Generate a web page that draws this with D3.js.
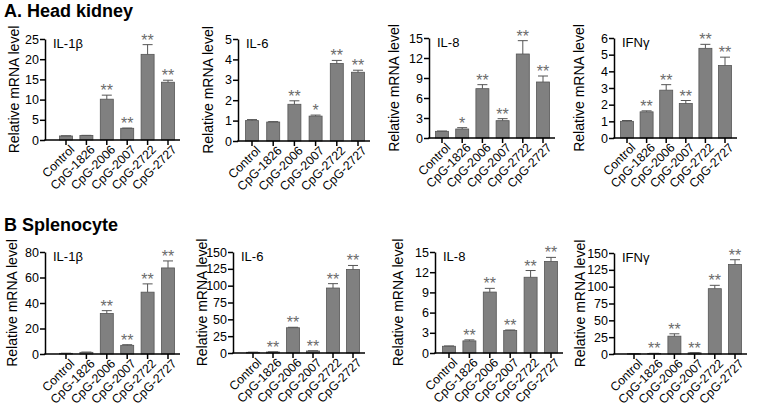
<!DOCTYPE html>
<html><head><meta charset="utf-8">
<script src="https://cdn.jsdelivr.net/npm/d3@7"></script>
<style>body{margin:0;background:#fff}svg{display:block}text{font-family:Arial,"Liberation Sans",sans-serif}</style>
</head><body><svg id="c" width="760" height="407"></svg>
<script>
const categories = ["Control","CpG-1826","CpG-2006","CpG-2007","CpG-2722","CpG-2727"];

// Head kidney
const hkIL1bValues = [1.0, 1.1, 10.1, 2.9, 21.2, 14.3];
const hkIL1bErr    = [1.05, 1.15, 11.1, 2.95, 23.6, 14.8];
const hkIL1bSig    = ["", "", "**", "**", "**", "**"];
const hkIL1bTicks  = [0, 5, 10, 15, 20, 25];

const hkIL6Values = [1.0, 0.93, 1.8, 1.22, 3.8, 3.37];
const hkIL6Err    = [1.05, 0.95, 1.97, 1.27, 3.95, 3.47];
const hkIL6Sig    = ["", "", "**", "*", "**", "**"];
const hkIL6Ticks  = [0, 1, 2, 3, 4, 5];

const hkIL8Values = [1.0, 1.35, 7.4, 2.6, 12.6, 8.4];
const hkIL8Err    = [1.05, 1.55, 8.0, 2.9, 14.6, 9.3];
const hkIL8Sig    = ["", "*", "**", "**", "**", "**"];
const hkIL8Ticks  = [0, 3, 6, 9, 12, 15];

const hkIFNgValues = [1.0, 1.57, 2.87, 2.07, 5.38, 4.35];
const hkIFNgErr    = [1.05, 1.63, 3.2, 2.25, 5.62, 4.85];
const hkIFNgSig    = ["", "**", "**", "**", "**", "**"];
const hkIFNgTicks  = [0, 1, 2, 3, 4, 5, 6];

// Splenocyte
const spIL1bValues = [0.5, 1.3, 31.8, 6.8, 48.5, 67.5];
const spIL1bErr    = [0.6, 1.5, 34.0, 7.3, 55.0, 73.0];
const spIL1bSig    = ["", "", "**", "**", "**", "**"];
const spIL1bTicks  = [0, 20, 40, 60, 80];

const spIL6Values = [1.0, 1.5, 37.5, 3.0, 96.5, 124];
const spIL6Err    = [1.2, 1.8, 38.2, 3.4, 103, 130];
const spIL6Sig    = ["", "**", "**", "**", "**", "**"];
const spIL6Ticks  = [0, 25, 50, 75, 100, 125, 150];

const spIL8Values = [1.0, 1.8, 9.05, 3.35, 11.25, 13.6];
const spIL8Err    = [1.05, 1.95, 9.6, 3.42, 12.25, 14.2];
const spIL8Sig    = ["", "**", "**", "**", "**", "**"];
const spIL8Ticks  = [0, 3, 6, 9, 12, 15];

const spIFNgValues = [0.5, 0.8, 26.5, 1.8, 97, 133];
const spIFNgErr    = [0.6, 1.0, 30, 2.1, 102, 140];
const spIFNgSig    = ["", "**", "**", "**", "**", "**"];
const spIFNgTicks  = [0, 25, 50, 75, 100, 125, 150];

const svg = d3.select("#c");
const BAR = "#808080", BARSTROKE = "#555555", STAR = "#6b6b6b";

svg.append("text").attr("x", 4).attr("y", 17).attr("font-size", 18).attr("font-weight", "bold").text("A. Head kidney");
svg.append("text").attr("x", 4).attr("y", 231).attr("font-size", 18).attr("font-weight", "bold").text("B Splenocyte");

const panels = [
  {name:"IL-1β", v:hkIL1bValues, e:hkIL1bErr, s:hkIL1bSig, t:hkIL1bTicks, x0:45, first:66, last:168, top:39, bot:140, lab:14},
  {name:"IL-6", v:hkIL6Values, e:hkIL6Err, s:hkIL6Sig, t:hkIL6Ticks, x0:238, first:252, last:358, top:39, bot:141, lab:208},
  {name:"IL-8", v:hkIL8Values, e:hkIL8Err, s:hkIL8Sig, t:hkIL8Ticks, x0:429, first:442, last:543, top:38, bot:138, lab:394},
  {name:"IFNγ", v:hkIFNgValues, e:hkIFNgErr, s:hkIFNgSig, t:hkIFNgTicks, x0:614, first:627, last:725, top:38, bot:138, lab:579},
  {name:"IL-1β", v:spIL1bValues, e:spIL1bErr, s:spIL1bSig, t:spIL1bTicks, x0:45, first:66, last:168, top:252, bot:354, lab:12},
  {name:"IL-6", v:spIL6Values, e:spIL6Err, s:spIL6Sig, t:spIL6Ticks, x0:233, first:253, last:353, top:252, bot:353, lab:202},
  {name:"IL-8", v:spIL8Values, e:spIL8Err, s:spIL8Sig, t:spIL8Ticks, x0:435, first:449, last:551, top:252, bot:353, lab:398},
  {name:"IFNγ", v:spIFNgValues, e:spIFNgErr, s:spIFNgSig, t:spIFNgTicks, x0:614, first:634, last:735, top:253, bot:354, lab:580},
];

panels.forEach(p => {
  const g = svg.append("g");
  const y = d3.scaleLinear().domain([0, d3.max(p.t)]).range([p.bot, p.top]);
  const x = d3.scalePoint().domain(categories).range([p.first, p.last]);
  const bw = 13;
  const xEnd = p.last + 12;

  categories.forEach((c, i) => {
    const cx = x(c);
    g.append("rect").attr("x", cx - bw/2).attr("y", y(p.v[i])).attr("width", bw)
      .attr("height", Math.max(0.5, y(0) - y(p.v[i]))).attr("fill", BAR).attr("stroke", BARSTROKE).attr("stroke-width", 0.8);
    g.append("line").attr("x1", cx).attr("x2", cx).attr("y1", y(p.v[i])).attr("y2", y(p.e[i])).attr("stroke", BARSTROKE).attr("stroke-width", 1);
    g.append("line").attr("x1", cx - 5).attr("x2", cx + 5).attr("y1", y(p.e[i])).attr("y2", y(p.e[i])).attr("stroke", BARSTROKE).attr("stroke-width", 1);
    if (p.s[i]) {
      g.append("text").attr("x", cx).attr("y", y(p.e[i]) + 1).attr("text-anchor", "middle")
        .attr("font-size", 16).attr("fill", STAR).text(p.s[i]);
    }
  });

  const ya = d3.axisLeft(y).tickValues(p.t).tickFormat(d3.format("d")).tickSize(5).tickSizeOuter(0).tickPadding(1);
  const yg = g.append("g").attr("transform", `translate(${p.x0},0)`).call(ya);
  yg.select(".domain").attr("stroke", "#000").attr("stroke-width", 1.5);
  yg.selectAll(".tick line").attr("stroke", "#000").attr("stroke-width", 1.5);
  yg.selectAll(".tick text").attr("font-size", 12.5).attr("fill", "#000").attr("font-family", "Arial, 'Liberation Sans', sans-serif");

  g.append("line").attr("x1", p.x0 - 0.75).attr("x2", xEnd).attr("y1", p.bot).attr("y2", p.bot).attr("stroke", "#000").attr("stroke-width", 1.5);
  categories.forEach((c, i) => {
    const cx = x(c);
    g.append("line").attr("x1", cx).attr("x2", cx).attr("y1", p.bot).attr("y2", p.bot + 5).attr("stroke", "#000").attr("stroke-width", 1.5);
    g.append("text").attr("transform", `translate(${cx + 7},${p.bot + 8}) rotate(-45)`)
      .attr("text-anchor", "end").attr("dominant-baseline", "middle").attr("font-size", 12.3).text(c);
  });

  g.append("text").attr("transform", `translate(${p.lab + 5},${(p.top + p.bot)/2}) rotate(-90)`)
    .attr("text-anchor", "middle").attr("font-size", 14).text("Relative mRNA level");

  g.append("text").attr("x", p.x0 + 8).attr("y", p.top + 9).attr("font-size", 13).text(p.name);
});
</script></body></html>
